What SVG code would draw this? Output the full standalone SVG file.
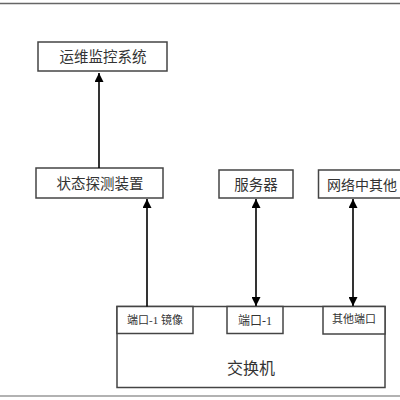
<svg xmlns="http://www.w3.org/2000/svg" width="400" height="400" viewBox="0 0 400 400">
<defs>
<marker id="ah" viewBox="0 0 10 10" refX="10" refY="5" markerWidth="9" markerHeight="9" markerUnits="userSpaceOnUse" orient="auto-start-reverse">
<path d="M0,0 L10,5 L0,10 Z" fill="#000"/>
</marker>
<style>
.b{fill:#fff;stroke:#444;stroke-width:1.5}
.t{font-family:"Liberation Serif","Noto Sans CJK SC",serif;fill:#333;text-anchor:middle}
.c{stroke:#000;stroke-width:1.6;fill:none}
</style>
</defs>
<rect width="400" height="400" fill="#fff"/>
<line x1="0" y1="3.5" x2="400" y2="3.5" stroke="#666" stroke-width="1.5"/>
<line x1="0" y1="396" x2="400" y2="396" stroke="#666" stroke-width="1.2"/>
<g id="switch">
<rect class="b" x="117" y="306.5" width="268" height="81"/>
<text class="t" x="251" y="374" font-size="16">交换机</text>
</g>
<g id="port1mirror">
<rect class="b" x="117" y="306.5" width="76" height="27"/>
<text class="t" x="155" y="324" font-size="11">端口-1 镜像</text>
</g>
<g id="port1">
<rect class="b" x="227" y="306.5" width="56" height="27"/>
<text class="t" x="255" y="325" font-size="12">端口-1</text>
</g>
<g id="otherport">
<rect class="b" x="323" y="306.5" width="62" height="27.5"/>
<text class="t" x="354" y="323" font-size="11">其他端口</text>
</g>
<g id="monitor">
<rect class="b" x="38" y="42" width="129" height="29"/>
<text class="t" x="103" y="62" font-size="14.5">运维监控系统</text>
</g>
<g id="detector">
<rect class="b" x="36" y="168" width="127" height="30"/>
<text class="t" x="100" y="189" font-size="14.5">状态探测装置</text>
</g>
<g id="server">
<rect class="b" x="219" y="170" width="74" height="28"/>
<text class="t" x="256" y="190" font-size="14.5">服务器</text>
</g>
<g id="othernet">
<rect class="b" x="318.5" y="170" width="90" height="28"/>
<text class="t" x="362" y="190" font-size="14">网络中其他</text>
</g>
<g id="connectors">
<line class="c" x1="99" y1="168" x2="99" y2="73" marker-end="url(#ah)"/>
<line class="c" x1="147" y1="306.5" x2="147" y2="199" marker-end="url(#ah)"/>
<line class="c" x1="256" y1="306" x2="256" y2="199" marker-start="url(#ah)" marker-end="url(#ah)"/>
<line class="c" x1="353" y1="306" x2="353" y2="199" marker-start="url(#ah)" marker-end="url(#ah)"/>
</g>
</svg>
